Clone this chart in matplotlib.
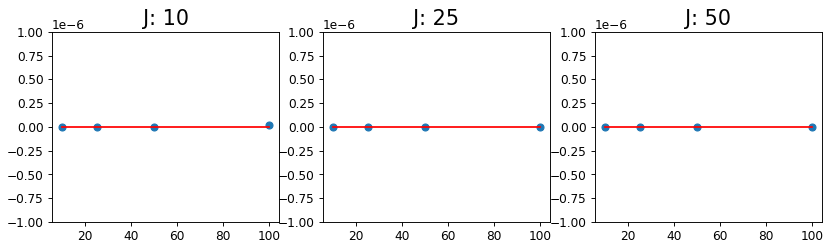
import numpy as np
import matplotlib
matplotlib.use('Agg')
import matplotlib.pyplot as plt
from matplotlib.ticker import MultipleLocator

# sample sizes and the values at each one, per J
n_values = [10, 25, 50, 100]
j_labels = [10, 25, 50]
y_j10 = [0.0, 0.0, 0.0, 2.0e-8]
y_j25 = [0.0, 0.0, 0.0, 0.0]
y_j50 = [0.0, 0.0, 0.0, 0.0]
ref_line = [0.0, 0.0, 0.0, 0.0]

plt.rcParams['xtick.labelsize'] = 10.5
plt.rcParams['ytick.labelsize'] = 10.5

fig = plt.figure(figsize=(10, 250 / 83.1), dpi=83.1)
W, H = 831, 250
lefts = [52, 323, 595]
width = 227
bottom, top = 222, 32

for left, j, ys in zip(lefts, j_labels, [y_j10, y_j25, y_j50]):
    ax = fig.add_axes([left / W, 1 - bottom / H, width / W, (bottom - top) / H])
    ax.scatter(n_values, ys)
    ax.plot(n_values, ref_line, color='red')
    ax.set_ylim(-1e-6, 1e-6)
    ax.yaxis.set_major_locator(MultipleLocator(0.25e-6))
    ax.xaxis.set_major_locator(MultipleLocator(20))
    ax.set_title(f'J: {j}', fontsize=18)

fig.savefig('out.png', dpi=83.1)
